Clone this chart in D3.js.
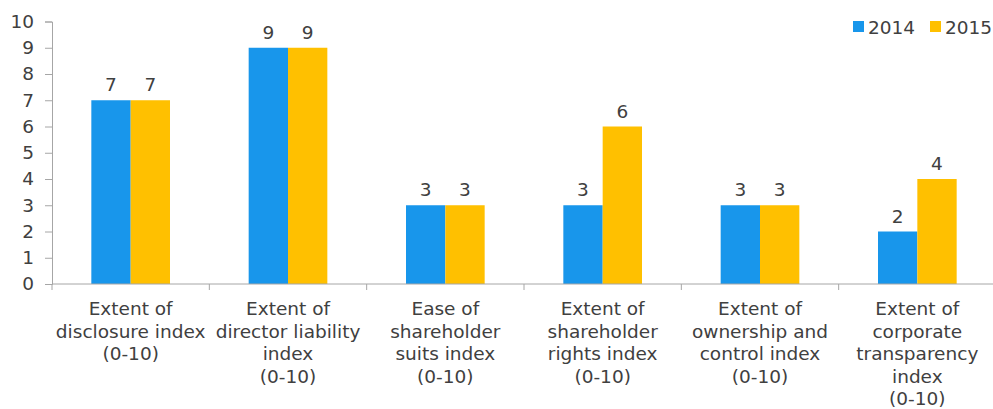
<!DOCTYPE html>
<html>
<head>
<meta charset="utf-8">
<script src="https://cdn.jsdelivr.net/npm/d3@7"></script>
<style>
  body { margin: 0; background: #fff; }
  text { font-family: "DejaVu Sans", sans-serif; fill: #404040; }
</style>
</head>
<body>
<svg width="993" height="409"></svg>
<script>
var categories = [
  ['Extent of', 'disclosure index', '(0-10)'],
  ['Extent of', 'director liability', 'index', '(0-10)'],
  ['Ease of', 'shareholder', 'suits index', '(0-10)'],
  ['Extent of', 'shareholder', 'rights index', '(0-10)'],
  ['Extent of', 'ownership and', 'control index', '(0-10)'],
  ['Extent of', 'corporate', 'transparency', 'index', '(0-10)']
];
var series = ['2014', '2015'];
var values2014 = [7, 9, 3, 3, 3, 2];
var values2015 = [7, 9, 3, 6, 3, 4];
var yTicks = [0, 1, 2, 3, 4, 5, 6, 7, 8, 9, 10];
var colors = ['#1896eb', '#ffc000'];

var fs = 18.5;
var svg = d3.select('svg'),
    plotLeft = 52, plotRight = 996, plotTop = 21.5, plotBottom = 284;

var x = d3.scaleBand()
  .domain(d3.range(categories.length))
  .range([plotLeft, plotRight]);

var y = d3.scaleLinear()
  .domain([0, 10])
  .range([plotBottom, plotTop]);

var barW = x.bandwidth() * 0.25;

// y axis
var yAxis = svg.append('g')
  .attr('transform', 'translate(' + plotLeft + ',0)')
  .call(d3.axisLeft(y).tickValues(yTicks).tickSize(7).tickPadding(11));
yAxis.select('.domain').attr('stroke', '#a6a6a6');
yAxis.selectAll('line').attr('stroke', '#a6a6a6');
yAxis.selectAll('text').attr('font-size', fs).attr('fill', '#404040')
  .style('font-family', '"DejaVu Sans", sans-serif');

// bars
var data = [values2014, values2015];
data.forEach(function(vals, s) {
  svg.append('g').selectAll('rect')
    .data(vals)
    .enter()
    .append('rect')
    .attr('x', function(d, i) { return x(i) + x.bandwidth() / 2 - barW + s * barW; })
    .attr('width', barW)
    .attr('y', function(d) { return y(d); })
    .attr('height', function(d) { return y(0) - y(d); })
    .attr('fill', colors[s]);

  svg.append('g').selectAll('text')
    .data(vals)
    .enter()
    .append('text')
    .attr('x', function(d, i) { return x(i) + x.bandwidth() / 2 - barW / 2 + s * barW; })
    .attr('y', function(d) { return y(d) - 9; })
    .attr('text-anchor', 'middle')
    .attr('font-size', fs)
    .text(function(d) { return d; });
});

// x axis
var xg = svg.append('g');
xg.append('line')
  .attr('x1', plotLeft).attr('x2', plotRight)
  .attr('y1', plotBottom).attr('y2', plotBottom)
  .attr('stroke', '#a6a6a6');
xg.selectAll('.tick')
  .data(d3.range(categories.length + 1))
  .enter()
  .append('line')
  .attr('x1', function(i) { return plotLeft + i * x.step(); })
  .attr('x2', function(i) { return plotLeft + i * x.step(); })
  .attr('y1', plotBottom).attr('y2', plotBottom + 6)
  .attr('stroke', '#a6a6a6');

var labels = svg.append('g').selectAll('text')
  .data(categories)
  .enter()
  .append('text')
  .attr('text-anchor', 'middle')
  .attr('font-size', fs);
labels.selectAll('tspan')
  .data(function(d, i) { return d.map(function(t) { return { t: t, i: i }; }); })
  .enter()
  .append('tspan')
  .attr('x', function(d) { return x(d.i) + x.bandwidth() / 2; })
  .attr('y', function(d, j) { return 315 + j * 22.5; })
  .text(function(d) { return d.t; });

// legend
var legendX = [853, 930];
var legend = svg.append('g').selectAll('g')
  .data(series)
  .enter()
  .append('g')
  .attr('transform', function(d, i) { return 'translate(' + legendX[i] + ',21)'; });
legend.append('rect')
  .attr('width', 11).attr('height', 11)
  .attr('fill', function(d, i) { return colors[i]; });
legend.append('text')
  .attr('x', 15).attr('y', 12.5)
  .attr('font-size', fs)
  .text(function(d) { return d; });
</script>
</body>
</html>
